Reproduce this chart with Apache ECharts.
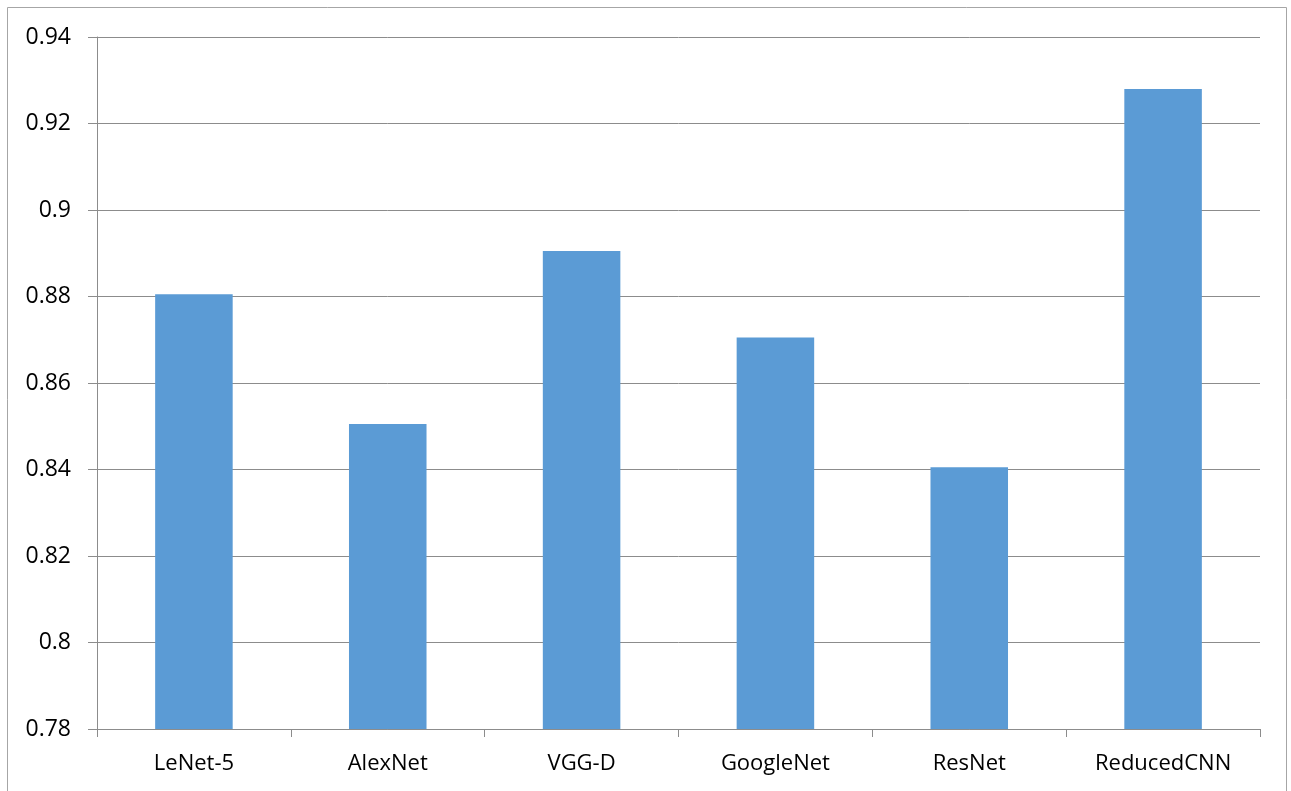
<!DOCTYPE html>
<html>
<head>
<meta charset="utf-8">
<script src="https://cdn.jsdelivr.net/npm/echarts@6/dist/echarts.min.js"></script>
<style>
  html, body { margin: 0; padding: 0; background: #fff; }
  #main { width: 1291px; height: 791px; }
</style>
</head>
<body>
<div id="main"></div>
<script>
// data
const categories = ["LeNet-5", "AlexNet", "VGG-D", "GoogleNet", "ResNet", "ReducedCNN"];
const accuracy = [0.8805, 0.8505, 0.8905, 0.8705, 0.8405, 0.928];
const yMin = 0.78;
const yMax = 0.94;
const yStep = 0.02;

const chart = echarts.init(document.getElementById("main"));
const lineColor = "#8c8c8c";
const font = "'Open Sans', 'Noto Sans', sans-serif";

const option = {
  animation: false,
  backgroundColor: "#fff",
  graphic: [
    {
      type: "rect",
      shape: { x: 7.5, y: 7.5, width: 1279, height: 800 },
      style: { fill: "none", stroke: "#a6a6a6", lineWidth: 1 },
      silent: true,
    },
  ],
  grid: { left: 97, right: 31, top: 37, bottom: 62 },
  xAxis: {
    type: "category",
    data: categories,
    axisLine: { lineStyle: { color: lineColor, width: 1 } },
    axisTick: { show: true, length: 8, lineStyle: { color: lineColor } },
    axisLabel: { color: "#000", fontSize: 22, fontFamily: font, margin: 24 },
  },
  yAxis: {
    type: "value",
    min: yMin,
    max: yMax,
    interval: yStep,
    axisLine: { show: true, lineStyle: { color: lineColor, width: 1 } },
    axisTick: { show: true, length: 9, lineStyle: { color: lineColor } },
    splitLine: { lineStyle: { color: lineColor, width: 1 } },
    axisLabel: {
      color: "#000",
      fontSize: 23,
      fontFamily: font,
      margin: 26,
      formatter: (v) => String(parseFloat(v.toFixed(2))),
    },
  },
  series: [
    {
      type: "bar",
      data: accuracy,
      barWidth: "40%",
      itemStyle: { color: "#5b9bd5" },
    },
  ],
};

chart.setOption(option);
</script>
</body>
</html>
